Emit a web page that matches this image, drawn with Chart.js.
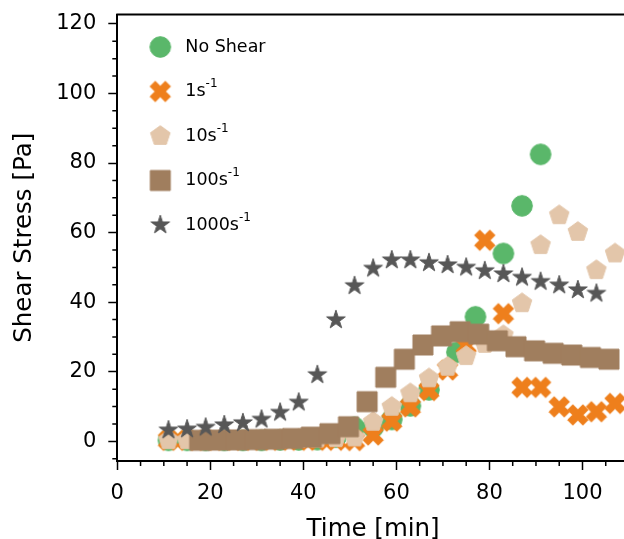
<!DOCTYPE html>
<html>
<head>
<meta charset="utf-8">
<script src="https://cdn.jsdelivr.net/npm/chart.js@4.4.0/dist/chart.umd.min.js"></script>
<style>
    html, body { margin: 0; padding: 0; background: #fff; overflow: hidden; }
    #contenedor { width: 640px; height: 539px; }
</style>
</head>
<body>
<div id="contenedor"><canvas id="chartEsfuerzo" width="640" height="539"></canvas></div>
<script>
// tiempos en min, esfuerzo en Pa
const noShearTime = [11, 15, 19, 23, 27, 31, 35, 39, 43, 47, 51, 55, 59, 63, 67, 73, 77, 83, 87, 91];
const noShearStress = [0.3, 0.3, 0.3, 0.3, 0.3, 0.3, 0.4, 0.4, 0.5, 1.2, 4.0, 4.0, 6.3, 10.2, 14.8, 25.6, 35.8, 54.0, 67.7, 82.5];

const rate1Time = [11, 15, 19, 23, 27, 31, 35, 39, 43, 47, 51, 55, 59, 63, 67, 71, 75, 79, 83, 87, 91, 95, 99, 103, 107];
const rate1Stress = [0.3, 0.3, 0.3, 0.3, 0.3, 0.3, 0.3, 0.3, 0.3, 0.3, 0.2, 1.8, 5.8, 9.9, 14.6, 20.5, 27.5, 57.8, 36.7, 15.5, 15.5, 9.9, 7.6, 8.5, 10.9];

const rate10Time = [11, 15, 19, 23, 27, 31, 35, 39, 43, 47, 51, 55, 59, 63, 67, 71, 75, 79, 83, 87, 91, 95, 99, 103, 107];
const rate10Stress = [0.3, 0.3, 0.4, 0.4, 0.5, 0.5, 0.6, 0.7, 0.8, 0.9, 1.1, 5.6, 9.9, 13.8, 18.1, 21.4, 24.5, 28.0, 30.5, 39.7, 56.4, 65.0, 60.2, 49.2, 54.0];

const rate100Time = [17.7, 21.7, 25.7, 29.7, 33.7, 37.7, 41.7, 45.7, 49.7, 53.7, 57.7, 61.7, 65.7, 69.7, 73.7, 77.7, 81.7, 85.7, 89.7, 93.7, 97.7, 101.7, 105.7];
const rate100Stress = [0.3, 0.35, 0.4, 0.5, 0.6, 0.8, 1.2, 2.2, 4.2, 11.4, 18.4, 23.6, 27.7, 30.3, 31.5, 30.8, 28.9, 27.2, 26.0, 25.3, 24.8, 24.1, 23.6];

const rate1000Time = [11, 15, 19, 23, 27, 31, 35, 39, 43, 47, 51, 55, 59, 63, 67, 71, 75, 79, 83, 87, 91, 95, 99, 103];
const rate1000Stress = [3.2, 3.5, 4.0, 4.7, 5.3, 6.3, 8.3, 11.2, 19.1, 34.9, 44.7, 49.7, 52.1, 52.1, 51.3, 50.7, 50.0, 49.0, 48.1, 47.1, 45.9, 44.9, 43.5, 42.5];

const legendNames = ['No Shear', '1s', '10s', '100s', '1000s'];
const legendExponent = ['', '-1', '-1', '-1', '-1'];

const xTicks = [0, 20, 40, 60, 80, 100];
const yTicks = [0, 20, 40, 60, 80, 100, 120];
const xMinorTicks = [5, 10, 15, 25, 30, 35, 45, 50, 55, 65, 70, 75, 85, 90, 95, 105];
const yMinorTicks = [-5, 5, 10, 15, 25, 30, 35, 45, 50, 55, 65, 70, 75, 85, 90, 95, 105, 110, 115];

const FONT = "'DejaVu Sans', sans-serif";

// sprites de los marcadores
const makeMarker = (color, drawShape) => {
    const c = document.createElement('canvas');
    c.width = 30;
    c.height = 30;
    const g = c.getContext('2d');
    g.translate(15, 15);
    g.fillStyle = color;
    g.strokeStyle = color;
    g.lineWidth = 1;
    g.beginPath();
    drawShape(g);
    g.closePath();
    g.fill();
    g.stroke();
    return c;
};

const polygon = (g, pts) => {
    pts.forEach(([px, py], i) => (i === 0 ? g.moveTo(px, py) : g.lineTo(px, py)));
};

const circleShape = (g) => g.arc(0, 0, 10.3, 0, Math.PI * 2);
const squareShape = (g) => g.rect(-10, -10, 20, 20);
const pentagonShape = (g) => {
    const pts = [];
    for (let k = 0; k < 5; k++) {
        const a = -Math.PI / 2 + k * 2 * Math.PI / 5;
        pts.push([10.3 * Math.cos(a), 10.3 * Math.sin(a)]);
    }
    polygon(g, pts);
};
const starShape = (g) => {
    const pts = [];
    for (let k = 0; k < 10; k++) {
        const r = k % 2 === 0 ? 9.8 : 9.8 * 0.381966;
        const a = -Math.PI / 2 + k * Math.PI / 5;
        pts.push([r * Math.cos(a), r * Math.sin(a)]);
    }
    polygon(g, pts);
};
const xShape = (g) => {
    const L = 10.8, h = 3.7;
    const base = [[-h, -L], [h, -L], [h, -h], [L, -h], [L, h], [h, h], [h, L], [-h, L], [-h, h], [-L, h], [-L, -h], [-h, -h]];
    const c = Math.SQRT1_2;
    polygon(g, base.map(([px, py]) => [c * (px - py), c * (px + py)]));
};

const colores = ['#5ab76a', '#ee7f1c', '#e3c6aa', '#a07e5e', '#575757'];
const marcadores = [
    makeMarker(colores[0], circleShape),
    makeMarker(colores[1], xShape),
    makeMarker(colores[2], pentagonShape),
    makeMarker(colores[3], squareShape),
    makeMarker(colores[4], starShape)
];

const toPoints = (xs, ys) => xs.map((t, i) => ({ x: t, y: ys[i] }));
const series = [
    toPoints(noShearTime, noShearStress),
    toPoints(rate1Time, rate1Stress),
    toPoints(rate10Time, rate10Stress),
    toPoints(rate100Time, rate100Stress),
    toPoints(rate1000Time, rate1000Stress)
];

// marcas menores y marco superior/derecho
const marcoPlugin = {
    id: 'marco',
    afterDraw(chart) {
        const { ctx, chartArea: a, scales: { x, y } } = chart;
        ctx.save();
        ctx.strokeStyle = '#000';
        ctx.lineWidth = 1.5;
        ctx.beginPath();
        xMinorTicks.forEach(v => {
            const px = x.getPixelForValue(v);
            ctx.moveTo(px, a.bottom);
            ctx.lineTo(px, a.bottom + 5);
        });
        yMinorTicks.forEach(v => {
            const py = y.getPixelForValue(v);
            ctx.moveTo(a.left, py);
            ctx.lineTo(a.left - 5, py);
        });
        ctx.stroke();
        ctx.lineWidth = 2;
        ctx.beginPath();
        ctx.moveTo(a.left - 1, a.top);
        ctx.lineTo(a.right, a.top);
        ctx.lineTo(a.right, a.bottom);
        ctx.stroke();
        ctx.restore();
    }
};

// leyenda dentro del área
const leyendaPlugin = {
    id: 'leyenda',
    afterDatasetsDraw(chart) {
        const { ctx, chartArea: a } = chart;
        ctx.save();
        legendNames.forEach((name, i) => {
            const cy = a.top + 32.5 + i * 44.5;
            const m = marcadores[i];
            ctx.drawImage(m, a.left + 43 - m.width / 2, cy - m.height / 2);
            ctx.fillStyle = '#000';
            ctx.textBaseline = 'middle';
            ctx.font = `17.5px ${FONT}`;
            ctx.fillText(name, a.left + 68, cy);
            if (legendExponent[i]) {
                const w = ctx.measureText(name).width;
                ctx.font = `12px ${FONT}`;
                ctx.fillText(legendExponent[i], a.left + 68 + w, cy - 7.5);
            }
        });
        ctx.restore();
    }
};

const ctxEsfuerzo = document.getElementById('chartEsfuerzo').getContext('2d');

const chartEsfuerzo = new Chart(ctxEsfuerzo, {
    type: 'scatter',
    data: {
        datasets: legendNames.map((name, i) => ({
            label: name,
            data: series[i],
            pointStyle: marcadores[i],
            pointRadius: 10,
            order: 4 - i
        }))
    },
    options: {
        responsive: false,
        animation: false,
        devicePixelRatio: 1,
        layout: { padding: { top: 14.5, right: 5.7, left: 0, bottom: 0 } },
        plugins: {
            legend: { display: false },
            tooltip: { enabled: false }
        },
        scales: {
            x: {
                type: 'linear',
                min: 0,
                max: 110,
                afterBuildTicks: (scale) => { scale.ticks = xTicks.map(v => ({ value: v })); },
                afterFit: (scale) => {
                    scale.height = 78;
                    scale.paddingLeft = 0;
                    scale.paddingRight = 0;
                },
                border: { display: true, color: '#000', width: 2 },
                grid: { drawOnChartArea: false, drawTicks: true, tickLength: 9, tickWidth: 1.5, tickColor: '#000' },
                ticks: { color: '#000', padding: 10.5, font: { family: FONT, size: 21 } },
                title: {
                    display: true,
                    text: 'Time [min]',
                    color: '#000',
                    padding: { top: 0, bottom: -2.5 },
                    font: { family: FONT, size: 24.5, lineHeight: 1 }
                }
            },
            y: {
                type: 'linear',
                min: -5.66,
                max: 122.7,
                afterBuildTicks: (scale) => { scale.ticks = yTicks.map(v => ({ value: v })); },
                afterFit: (scale) => {
                    scale.width = 117.3;
                    scale.paddingTop = 0;
                    scale.paddingBottom = 0;
                },
                border: { display: true, color: '#000', width: 2 },
                grid: { drawOnChartArea: false, drawTicks: true, tickLength: 9, tickWidth: 1.5, tickColor: '#000' },
                ticks: { color: '#000', padding: 12, font: { family: FONT, size: 21 } },
                title: {
                    display: true,
                    text: 'Shear Stress [Pa]',
                    color: '#000',
                    padding: { top: 12.5, bottom: 0 },
                    font: { family: FONT, size: 24.5, lineHeight: 1 }
                }
            }
        }
    },
    plugins: [marcoPlugin, leyendaPlugin]
});
</script>
</body>
</html>
